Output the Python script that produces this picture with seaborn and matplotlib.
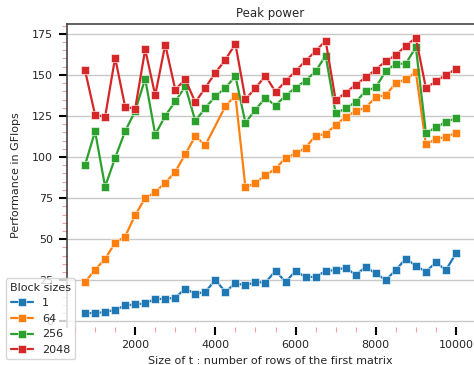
import numpy as np
import pandas as pd
import matplotlib
matplotlib.use("Agg")
import matplotlib.pyplot as plt
import seaborn as sns
from matplotlib.ticker import MultipleLocator

sizes = list(range(750, 10001, 250))
block_sizes = ["1", "64", "256", "2048"]

perf_1 = [5.1, 4.9, 5.7, 6.9, 9.7, 10.3, 10.9, 13.6, 13.6, 14.4, 19.8, 16.8, 17.8,
          25.3, 17.8, 23.3, 21.8, 23.9, 23.5, 30.8, 23.9, 30.6, 26.9, 27.1, 30.6,
          31.2, 32.6, 28.3, 33.0, 29.1, 25.1, 31.2, 38.2, 33.8, 30.2, 35.8, 31.2, 41.3]
perf_64 = [23.9, 31.4, 37.9, 47.9, 51.6, 64.7, 74.9, 78.7, 84.3, 91.0, 101.8, 112.6,
           107.2, None, 130.9, 137.4, 81.5, 84.2, 88.9, 92.8, 99.5, 102.2, 105.6,
           113.1, 113.9, 119.5, 124.4, 128.0, 130.1, 136.5, 137.7, 145.0, 147.3,
           151.7, 107.8, 110.9, 112.3, 114.7]
perf_256 = [95.1, 115.7, 81.9, 99.5, 115.7, 128.0, 147.7, 113.7, 125.0, 133.9, 143.0,
            122.0, 129.9, 137.0, 142.0, 149.3, 120.8, 128.9, 136.0, 131.3, 137.4,
            142.2, 146.5, 152.1, 161.8, 126.5, 129.7, 133.5, 140.2, 142.4, 152.3,
            156.8, 156.8, 166.9, 114.7, 118.0, 121.4, 123.6]
perf_2048 = [152.7, 125.7, 124.4, 160.5, 130.5, 129.4, 165.5, 137.6, 168.5, 141.0,
             147.3, 133.3, 142.2, 151.3, 159.2, 168.9, 135.1, 142.0, 149.5, 139.6,
             146.1, 152.3, 158.6, 164.4, 170.9, 134.5, 139.2, 144.0, 148.5, 153.2,
             158.4, 162.0, 167.7, 172.6, 142.0, 146.1, 150.1, 153.5]

frames = []
for name, vals in zip(block_sizes, [perf_1, perf_64, perf_256, perf_2048]):
    frames.append(pd.DataFrame({"size": sizes, "perf": vals, "block": name}))
df = pd.concat(frames, ignore_index=True).dropna()

sns.set_style("white")
plt.rcParams["font.family"] = ["DejaVu Sans"]

fig = plt.figure(figsize=(4.74, 3.65), dpi=100)
ax = fig.add_axes([66.5 / 474, (365 - 327) / 365, (474.5 - 66.5) / 474, (327 - 24) / 365])

palette = sns.color_palette("tab10", 4)
sns.lineplot(data=df, x="size", y="perf", hue="block", hue_order=block_sizes,
             palette=palette, marker="s", markersize=6, linewidth=1.6,
             markeredgecolor="white", markeredgewidth=0.4, ax=ax, sort=True)

ax.set_title("Peak power", fontsize=8.5, pad=5)
ax.set_xlabel("Size of t : number of rows of the first matrix", fontsize=8)
ax.set_ylabel("Performance in GFlops", fontsize=8, labelpad=8)

ax.yaxis.set_major_locator(MultipleLocator(25))
ax.yaxis.set_minor_locator(MultipleLocator(5))
ax.xaxis.set_major_locator(MultipleLocator(2000))
ax.xaxis.set_minor_locator(MultipleLocator(500))
ax.tick_params(which="major", length=6, width=1.5, color="black", labelsize=8)
ax.tick_params(which="minor", length=3.5, width=0.8, color="#f4a0a0")
ax.tick_params(axis="both", which="both", direction="out", bottom=True, left=True)

ax.grid(axis="y", color="#c8c8c8", linewidth=1)
ax.set_axisbelow(True)
for s in ["top", "left"]:
    ax.spines[s].set_color("#444444")
    ax.spines[s].set_linewidth(1.2)
ax.spines["bottom"].set_visible(False)
ax.spines["right"].set_visible(False)

handles, labels = ax.get_legend_handles_labels()
ax.get_legend().remove()
fig.legend(handles, labels, title="Block sizes", loc="lower left", fontsize=8,
           title_fontsize=8, framealpha=0.8, borderaxespad=0.5)

fig.savefig("out.png", dpi=100)
